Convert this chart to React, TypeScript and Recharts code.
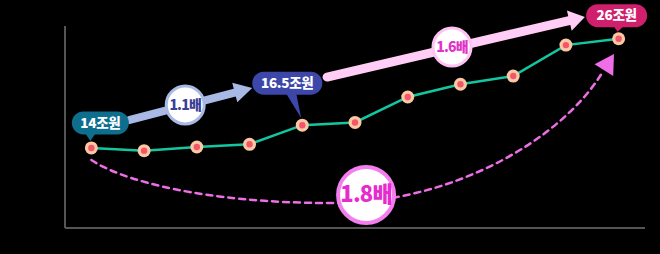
import { ComposedChart, Line, XAxis, YAxis, ReferenceLine, ReferenceDot, LabelList } from 'recharts'

// market size (조원) per period
const periods = [0, 1, 2, 3, 4, 5, 6, 7, 8, 9, 10]
const marketSize = [14, 13.7, 14.1, 14.4, 16.5, 16.8, 19.6, 21.0, 21.9, 25.3, 26]
const calloutPoints = [0, 4, 10]
const growthLabels = ['1.1배', '1.6배', '1.8배']

const data = periods.map((p, i) => ({ period: p, value: marketSize[i] }))

const FONT = "'Noto Sans CJK KR', 'Noto Sans', sans-serif"

// look of the three value bubbles (keyed by point index)
const CALLOUTS: Record<number, { fill: string; dx: number; lift: number; w: number; base: number }> = {
  0: { fill: '#0e6e8e', dx: 9, lift: 25, w: 57, base: -1 },
  4: { fill: '#3d47a9', dx: -15, lift: 42, w: 70, base: -11 },
  10: { fill: '#cf1f6d', dx: -2, lift: 23, w: 61, base: 0 },
}

function Callout(props: any) {
  const { x, y, value, index } = props
  if (!calloutPoints.includes(index)) return null
  const c = CALLOUTS[index]
  const h = 23
  const cx = x + c.dx
  const cy = y - c.lift
  const bx = x + c.base
  return (
    <g>
      <polygon
        points={`${bx - 5},${cy + h / 2 - 1} ${bx + 5},${cy + h / 2 - 1} ${x - 1},${y - 7}`}
        fill={c.fill}
      />
      <rect x={cx - c.w / 2} y={cy - h / 2} width={c.w} height={h} rx={11.5} fill={c.fill} />
      <text
        x={cx}
        y={cy + 1}
        textAnchor="middle"
        dominantBaseline="middle"
        fill="#fff"
        fontSize={13.5}
        fontWeight={900}
        fontFamily={FONT}
        letterSpacing={-0.3}
      >
        {`${value}조원`}
      </text>
    </g>
  )
}

function Marker(props: any) {
  const { cx, cy, index } = props
  return (
    <g key={`m-${index}`}>
      <circle cx={cx} cy={cy} r={6.5} fill="#fbc8a2" />
      <circle cx={cx} cy={cy} r={3.2} fill="#f3566c" />
    </g>
  )
}

function makeArrow(color: string, width: number, head: number, half: number) {
  return (p: any) => {
    const { x1, y1, x2, y2 } = p
    const len = Math.hypot(x2 - x1, y2 - y1)
    const ux = (x2 - x1) / len
    const uy = (y2 - y1) / len
    const bx = x2 - ux * head
    const by = y2 - uy * head
    return (
      <g>
        <line x1={x1} y1={y1} x2={bx + ux * 2} y2={by + uy * 2} stroke={color} strokeWidth={width} strokeLinecap="round" />
        <polygon
          points={`${x2},${y2} ${bx - uy * half},${by + ux * half} ${bx + uy * half},${by - ux * half}`}
          fill={color}
        />
      </g>
    )
  }
}

function DashedCurve(p: any) {
  const { x1, y1, x2, y2 } = p
  const color = '#ee6ee6'
  const mx = x1 + (x2 - x1) * 0.47
  const my = y1 + 43
  const c2x = x2 - 44
  const c2y = y2 + 70
  const len = Math.hypot(x2 - c2x, y2 - c2y)
  const ux = (x2 - c2x) / len
  const uy = (y2 - c2y) / len
  const tx = x2 + ux * 19
  const ty = y2 + uy * 19
  const half = 11
  return (
    <g>
      <path
        d={`M ${x1} ${y1} C ${x1 + 30} ${y1 + 20}, ${x1 + 110} ${my}, ${mx} ${my} C ${mx + 120} ${my}, ${c2x} ${c2y}, ${x2 - ux * 5} ${y2 - uy * 5}`}
        fill="none"
        stroke={color}
        strokeWidth={2.5}
        strokeDasharray="6 5"
        strokeLinecap="round"
      />
      <polygon
        points={`${tx},${ty} ${x2 - uy * half},${y2 + ux * half} ${x2 + uy * half},${y2 - ux * half}`}
        fill={color}
      />
    </g>
  )
}

function makeBadge(text: string, r: number, ring: string, ink: string, size: number, ringW: number) {
  return (p: any) => (
    <g>
      <circle cx={p.cx} cy={p.cy} r={r} fill="#fff" stroke={ring} strokeWidth={ringW} />
      <text
        x={p.cx}
        y={p.cy + 1}
        textAnchor="middle"
        dominantBaseline="middle"
        fill={ink}
        fontSize={size}
        fontWeight={900}
        fontFamily={FONT}
        letterSpacing={-0.8}
      >
        {text}
      </text>
    </g>
  )
}

export default function App() {
  return (
    <div style={{ position: 'absolute', left: 0, top: 0, width: 660, height: 254, background: '#000' }}>
      <ComposedChart width={660} height={254} data={data} margin={{ top: 26, right: 15, bottom: 25, left: 64 }}>
        <XAxis
          type="number"
          dataKey="period"
          domain={[-0.5, 10.5]}
          height={1}
          tick={false}
          tickLine={false}
          axisLine={{ stroke: '#555', strokeWidth: 2 }}
        />
        <YAxis
          type="number"
          domain={[5.2, 27.4]}
          width={1}
          tick={false}
          tickLine={false}
          axisLine={{ stroke: '#555', strokeWidth: 2 }}
        />
        <ReferenceLine
          segment={[{ x: 0, y: 12.67 }, { x: 9.72, y: 22.56 }]}
          ifOverflow="visible"
          shape={DashedCurve}
        />
        <ReferenceLine
          segment={[{ x: 0.73, y: 17.07 }, { x: 3.05, y: 20.59 }]}
          ifOverflow="visible"
          shape={makeArrow('#a7b9e4', 8, 18, 10)}
        />
        <ReferenceLine
          segment={[{ x: 4.47, y: 21.79 }, { x: 9.36, y: 28.39 }]}
          ifOverflow="visible"
          shape={makeArrow('#ffcdf5', 9, 16, 10.5)}
        />
        <ReferenceDot x={1.78} y={18.72} ifOverflow="visible" shape={makeBadge(growthLabels[0], 19, '#a7b9e4', '#3b3f98', 14, 3)} />
        <ReferenceDot x={6.84} y={25.09} ifOverflow="visible" shape={makeBadge(growthLabels[1], 19, '#ffc3f3', '#e033c8', 14, 3)} />
        <ReferenceDot x={5.21} y={8.83} ifOverflow="visible" shape={makeBadge(growthLabels[2], 28, '#f47ef0', '#e62ccf', 22, 4)} />
        <Line
          dataKey="value"
          stroke="#14c6a0"
          strokeWidth={2.5}
          dot={Marker}
          activeDot={false}
          isAnimationActive={false}
        >
          <LabelList dataKey="value" content={Callout} />
        </Line>
      </ComposedChart>
    </div>
  )
}
